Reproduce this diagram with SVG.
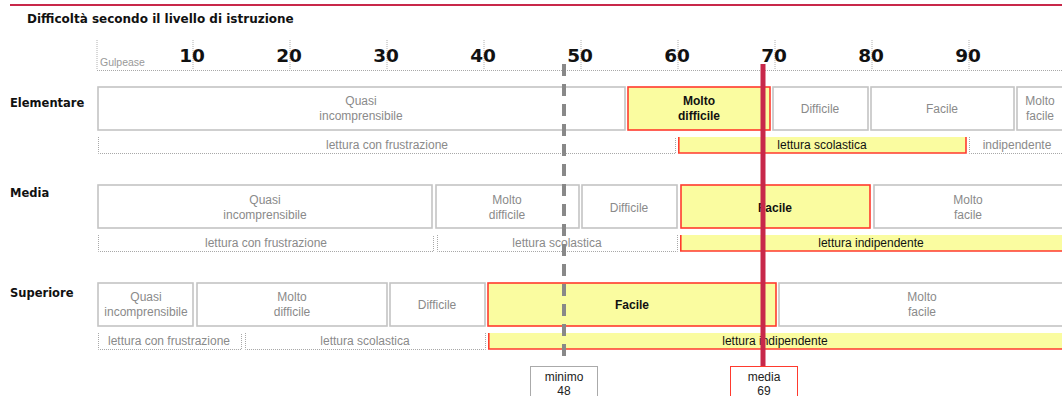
<svg xmlns="http://www.w3.org/2000/svg" width="1062" height="396" viewBox="0 0 1062 396">
<style>
.bg{fill:#fff}
.box{fill:#fff;stroke:#c4c4c4;stroke-width:1.6}
.hi{fill:#fafca0;stroke:#ff3a2e;stroke-width:1.6}
.t{font-family:"Liberation Sans",Arial,sans-serif;font-size:12px;fill:#8a8a8a;text-anchor:middle}
.tb{font-family:"Liberation Sans",Arial,sans-serif;font-size:12px;font-weight:bold;fill:#111;text-anchor:middle}
.st{font-family:"Liberation Sans",Arial,sans-serif;font-size:12px;fill:#8a8a8a;text-anchor:middle}
.stb{font-family:"Liberation Sans",Arial,sans-serif;font-size:12px;fill:#111;text-anchor:middle}
.dot{fill:none;stroke:#a8a8a8;stroke-width:1;stroke-dasharray:1 1}
.yb{fill:#fafca0}
.rb{fill:none;stroke:#ff3a2e;stroke-width:1.6}
.lab{font-family:"DejaVu Sans",Verdana,sans-serif;font-size:11.5px;font-weight:bold;fill:#111}
.num{font-family:"DejaVu Sans",Verdana,sans-serif;font-size:18.5px;font-weight:bold;fill:#111;text-anchor:middle}
.tick{stroke:#b0b0b0;stroke-width:1;stroke-dasharray:1 1}
</style>
<rect class="bg" x="0" y="0" width="1062" height="396"/>
<line x1="10" y1="5" x2="1062" y2="5" stroke="#c8284a" stroke-width="2"/>
<text class="lab" x="27" y="23" style="font-size:12px">Difficoltà secondo il livello di istruzione</text>

<g id="axis">
<line class="tick" x1="97" y1="40" x2="97" y2="70"/>
<text x="100" y="66" font-family="Liberation Sans, Arial, sans-serif" font-size="10.5" fill="#999">Gulpease</text>
<line class="dot" x1="97" y1="70.5" x2="1062" y2="70.5"/>
<line class="tick" x1="193" y1="40" x2="193" y2="70"/><text class="num" x="192" y="62">10</text>
<line class="tick" x1="290" y1="40" x2="290" y2="70"/><text class="num" x="289" y="62">20</text>
<line class="tick" x1="387" y1="40" x2="387" y2="70"/><text class="num" x="386" y="62">30</text>
<line class="tick" x1="484" y1="40" x2="484" y2="70"/><text class="num" x="483" y="62">40</text>
<line class="tick" x1="581" y1="40" x2="581" y2="70"/><text class="num" x="580" y="62">50</text>
<line class="tick" x1="678" y1="40" x2="678" y2="70"/><text class="num" x="677" y="62">60</text>
<line class="tick" x1="775" y1="40" x2="775" y2="70"/><text class="num" x="774" y="62">70</text>
<line class="tick" x1="872" y1="40" x2="872" y2="70"/><text class="num" x="871" y="62">80</text>
<line class="tick" x1="969" y1="40" x2="969" y2="70"/><text class="num" x="968" y="62">90</text>
</g>

<g id="row-elementare">
<text class="lab" x="10" y="107">Elementare</text>
<rect class="box" x="98" y="87" width="527" height="43"/>
<text class="t" x="361" y="105">Quasi</text><text class="t" x="361" y="120">incomprensibile</text>
<rect class="hi" x="628" y="87" width="142" height="43"/>
<text class="tb" x="699" y="105">Molto</text><text class="tb" x="699" y="120">difficile</text>
<rect class="box" x="773" y="87" width="95" height="43"/>
<text class="t" x="820" y="113">Difficile</text>
<rect class="box" x="871" y="87" width="143" height="43"/>
<text class="t" x="942" y="113">Facile</text>
<rect class="box" x="1017" y="87" width="60" height="43"/>
<text class="t" x="1040" y="105">Molto</text><text class="t" x="1040" y="120">facile</text>
<path class="dot" d="M98.5,137 V153.5 H675.5 V137"/>
<text class="st" x="387" y="149">lettura con frustrazione</text>
<rect class="yb" x="678" y="137" width="288" height="16"/>
<path class="rb" d="M678.8,137 V153 H966 V137"/>
<text class="stb" x="822" y="149">lettura scolastica</text>
<path class="dot" d="M969.5,137 V153.5 H1070"/>
<text class="st" x="1017" y="149">indipendente</text>
</g>

<g id="row-media">
<text class="lab" x="10" y="197">Media</text>
<rect class="box" x="98" y="185" width="334" height="43"/>
<text class="t" x="265" y="204">Quasi</text><text class="t" x="265" y="219">incomprensibile</text>
<rect class="box" x="436" y="185" width="143" height="43"/>
<text class="t" x="507" y="204">Molto</text><text class="t" x="507" y="219">difficile</text>
<rect class="box" x="582" y="185" width="95" height="43"/>
<text class="t" x="629" y="212">Difficile</text>
<rect class="hi" x="681" y="185" width="189" height="43"/>
<text class="tb" x="775" y="212">Facile</text>
<rect class="box" x="874" y="185" width="200" height="43"/>
<text class="t" x="968" y="204">Molto</text><text class="t" x="968" y="219">facile</text>
<path class="dot" d="M98.5,235 V251.5 H433.5 V235"/>
<text class="st" x="266" y="247">lettura con frustrazione</text>
<path class="dot" d="M437.5,235 V251.5 H677.5 V235"/>
<text class="st" x="557" y="247">lettura scolastica</text>
<rect class="yb" x="680" y="235" width="390" height="16"/>
<path class="rb" d="M680.8,235 V251 H1070"/>
<text class="stb" x="871" y="247">lettura indipendente</text>
</g>

<g id="row-superiore">
<text class="lab" x="10" y="297">Superiore</text>
<rect class="box" x="98" y="283" width="95" height="43"/>
<text class="t" x="146" y="301">Quasi</text><text class="t" x="146" y="316">incomprensibile</text>
<rect class="box" x="197" y="283" width="190" height="43"/>
<text class="t" x="292" y="301">Molto</text><text class="t" x="292" y="316">difficile</text>
<rect class="box" x="390" y="283" width="95" height="43"/>
<text class="t" x="437" y="309">Difficile</text>
<rect class="hi" x="488" y="283" width="288" height="43"/>
<text class="tb" x="632" y="309">Facile</text>
<rect class="box" x="779" y="283" width="300" height="43"/>
<text class="t" x="922" y="301">Molto</text><text class="t" x="922" y="316">facile</text>
<path class="dot" d="M98.5,333 V349.5 H241.5 V333"/>
<text class="st" x="169" y="345">lettura con frustrazione</text>
<path class="dot" d="M245.5,333 V349.5 H485.5 V333"/>
<text class="st" x="365" y="345">lettura scolastica</text>
<rect class="yb" x="488" y="333" width="582" height="16"/>
<path class="rb" d="M488.8,333 V349 H1070"/>
<text class="stb" x="775" y="345">lettura indipendente</text>
</g>

<g id="connectors">
<line x1="564" y1="64" x2="564" y2="364" stroke="#888" stroke-width="4" stroke-dasharray="12 8"/>
<line x1="763" y1="64" x2="763" y2="367" stroke="#c8284a" stroke-width="5"/>
</g>

<g id="marker-minimo">
<rect x="530.5" y="366.5" width="67" height="40" fill="#fff" stroke="#aaa" stroke-width="1"/>
<text class="t" x="564" y="381" style="fill:#222">minimo</text>
<text class="t" x="564" y="395" style="fill:#222">48</text>
</g>
<g id="marker-media">
<rect x="730.5" y="366.5" width="67" height="40" fill="#fff" stroke="#ff3a2e" stroke-width="1"/>
<text class="t" x="764" y="381" style="fill:#222">media</text>
<text class="t" x="764" y="395" style="fill:#222">69</text>
</g>
</svg>
